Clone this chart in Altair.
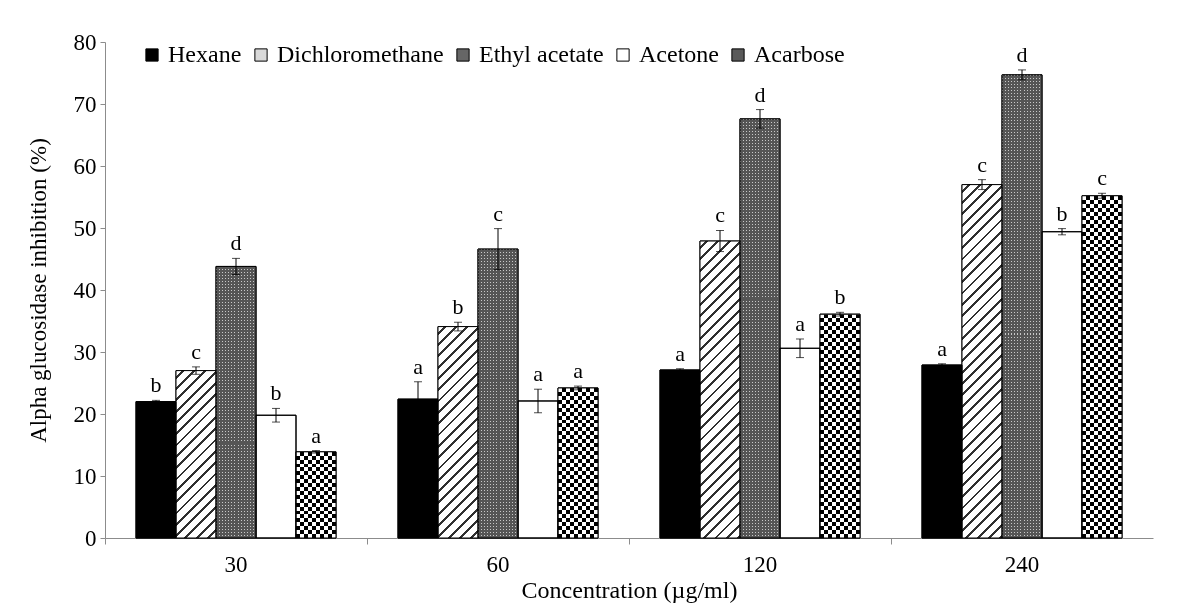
import math
import altair as alt
import pandas as pd

# ---------------- data ----------------
concentrations = ["30", "60", "120", "240"]
solvents = ["Hexane", "Dichloromethane", "Ethyl acetate", "Acetone", "Acarbose"]

hexane = [22.0, 22.4, 27.1, 27.9]
hexane_err = [0.2, 2.8, 0.2, 0.2]
hexane_sig = ["b", "a", "a", "a"]

dcm = [27.0, 34.1, 47.9, 57.0]
dcm_err = [0.6, 0.7, 1.7, 0.8]
dcm_sig = ["c", "b", "c", "c"]

ethyl = [43.8, 46.6, 67.6, 74.7]
ethyl_err = [1.3, 3.3, 1.5, 0.8]
ethyl_sig = ["d", "c", "d", "d"]

acetone = [19.8, 22.1, 30.6, 49.4]
acetone_err = [1.1, 1.9, 1.5, 0.5]
acetone_sig = ["b", "a", "a", "b"]

acarbose = [13.9, 24.2, 36.1, 55.2]
acarbose_err = [0.2, 0.3, 0.3, 0.4]
acarbose_sig = ["a", "a", "b", "c"]

series = {
    "Hexane": (hexane, hexane_err, hexane_sig),
    "Dichloromethane": (dcm, dcm_err, dcm_sig),
    "Ethyl acetate": (ethyl, ethyl_err, ethyl_sig),
    "Acetone": (acetone, acetone_err, acetone_sig),
    "Acarbose": (acarbose, acarbose_err, acarbose_sig),
}

rows = []
for s in solvents:
    vals, errs, sigs = series[s]
    for c, v, e, g in zip(concentrations, vals, errs, sigs):
        rows.append({"conc": c, "solvent": s, "value": v, "err": e,
                     "lo": v - e, "hi": v + e, "sig": g})
df = pd.DataFrame(rows)

# ---------------- geometry / style ----------------
W, H = 1048, 496
YMAX = 80
OUTER = 0.775
BAR_W = (W / len(concentrations)) / (len(solvents) + 2 * OUTER)
FONT = "Liberation Serif"
AXIS_GRAY = "#8c8c8c"
legend_colors = ["#000000", "#d9d9d9", "#666666", "#ffffff", "#5a5a5a"]

x_scale = alt.Scale(domain=concentrations, paddingInner=0, paddingOuter=0)
xo_scale = alt.Scale(domain=solvents, paddingInner=0, paddingOuter=OUTER)
y_scale = alt.Scale(domain=[0, YMAX], nice=False)

x_axis = alt.Axis(
    title="Concentration (µg/ml)", bandPosition=0,
    labelAngle=0, ticks=True, tickSize=6, tickColor=AXIS_GRAY,
    domainColor=AXIS_GRAY, labelFont=FONT, labelFontSize=23, labelColor="black",
    labelPadding=9, titleFont=FONT, titleFontSize=24, titleFontWeight="normal",
    titleColor="black", titleY=52, titleBaseline="middle", grid=False,
)
y_axis = alt.Axis(
    title="Alpha glucosidase inhibition (%)", values=list(range(0, 81, 10)),
    grid=False, domainColor=AXIS_GRAY, tickColor=AXIS_GRAY, tickSize=5,
    labelFont=FONT, labelFontSize=23, labelColor="black", labelPadding=4,
    titleFont=FONT, titleFontSize=23, titleFontWeight="normal", titleColor="black",
    titleX=-67, titleY=H / 2, titleAngle=270, titleAlign="center",
    titleBaseline="middle",
)

X = alt.X("conc:N", scale=x_scale, axis=x_axis)
XO = alt.XOffset("solvent:N", scale=xo_scale)


def Yf(field):
    return alt.Y(field, type="quantitative", scale=y_scale, axis=y_axis)


def bar_px(v):
    return v * H / YMAX


def diag_gradient(h, w=BAR_W, spacing=8.0, thick=2.0, bg="#ffffff", fg="#303030"):
    k = (w + h) / (w * w + h * h)
    L = (w + h) / math.sqrt(2)
    d = thick / L
    stops = [{"offset": 0, "color": bg}]
    j = 0
    while True:
        p = (j + 0.5) * spacing / L
        if p + d >= 1:
            break
        p = round(p, 5)
        q = round(p + d, 5)
        stops += [{"offset": p, "color": bg}, {"offset": p, "color": fg},
                  {"offset": q, "color": fg}, {"offset": q, "color": bg}]
        j += 1
    stops.append({"offset": 1, "color": bg})
    return {"gradient": "linear", "x1": 0, "y1": 0, "x2": round(w * k, 5),
            "y2": round(h * k, 5), "stops": stops}


def stripe_gradient(n, vertical, c_on="#000000", c_off="#ffffff", frac=0.5):
    """n periods, each: c_on for `frac` of the period then c_off."""
    stops = []
    for i in range(n):
        a = round(i / n, 5)
        m = round((i + frac) / n, 5)
        b = round((i + 1) / n, 5)
        stops += [{"offset": a, "color": c_on}, {"offset": m, "color": c_on},
                  {"offset": m, "color": c_off}, {"offset": b, "color": c_off}]
    if vertical:
        return {"gradient": "linear", "x1": 0, "y1": 0, "x2": 1, "y2": 0, "stops": stops}
    return {"gradient": "linear", "x1": 0, "y1": 0, "x2": 0, "y2": 1, "stops": stops}


def one_bar(solvent, conc=None):
    flt = alt.datum.solvent == solvent
    if conc is not None:
        flt = flt & (alt.datum.conc == conc)
    return alt.Chart(df).transform_filter(flt)


# ---------------- layers ----------------
base = alt.Chart(df).mark_bar(stroke="black", strokeWidth=1).encode(
    x=X, xOffset=XO, y=Yf("value"),
    fill=alt.Fill("solvent:N", scale=alt.Scale(domain=solvents, range=legend_colors),
                  legend=alt.Legend(
                      orient="none", legendX=35, legendY=1, direction="horizontal",
                      title=None, symbolType="square", symbolSize=150,
                      symbolStrokeColor="black", symbolStrokeWidth=1,
                      labelFont=FONT, labelFontSize=24, labelColor="black",
                      labelOffset=4, columnPadding=7, labelLimit=400, padding=0)),
)

layers = [base]

# Dichloromethane hatch
for c, v in zip(concentrations, dcm):
    layers.append(one_bar("Dichloromethane", c).mark_bar(
        fill=diag_gradient(bar_px(v)), strokeWidth=0).encode(
        x=X, xOffset=XO, y=Yf("value")))

# Ethyl acetate stipple: light dots where light columns and light rows cross
layers.append(one_bar("Ethyl acetate").mark_bar(
    fill=stripe_gradient(13, True, "#c8c8c8", "#555555", 1 / 3), strokeWidth=0).encode(
    x=X, xOffset=XO, y=Yf("value")))
for c, v in zip(concentrations, ethyl):
    n_rows = max(2, int(round(bar_px(v) / 3.0)))
    layers.append(one_bar("Ethyl acetate", c).mark_bar(
        fill=stripe_gradient(n_rows, False, "#ffffff", "#555555", 1 / 3),
        strokeWidth=0, blend="darken").encode(
        x=X, xOffset=XO, y=Yf("value")))

# Acarbose checkerboard: 4px columns, then 4px rows combined with difference
layers.append(one_bar("Acarbose").mark_bar(
    fill=stripe_gradient(5, True, "#000000", "#ffffff", 0.5), strokeWidth=0).encode(
    x=X, xOffset=XO, y=Yf("value")))
for c, v in zip(concentrations, acarbose):
    n_rows = max(1, int(round(bar_px(v) / 8.0)))
    layers.append(one_bar("Acarbose", c).mark_bar(
        fill=stripe_gradient(n_rows, False, "#ffffff", "#000000", 0.5),
        strokeWidth=0, blend="difference").encode(
        x=X, xOffset=XO, y=Yf("value")))

# outlines
layers.append(alt.Chart(df).mark_bar(fillOpacity=0, stroke="black", strokeWidth=1).encode(
    x=X, xOffset=XO, y=Yf("value")))

# error bars
layers.append(alt.Chart(df).mark_rule(color="black", strokeWidth=1).encode(
    x=X, xOffset=XO, y=Yf("lo"), y2="hi:Q"))
for fld in ["lo", "hi"]:
    layers.append(alt.Chart(df).mark_tick(color="black", thickness=1, size=8).encode(
        x=X, xOffset=XO, y=Yf(fld)))

# significance letters
layers.append(alt.Chart(df).mark_text(
    font=FONT, fontSize=22, color="black", baseline="alphabetic", dy=-8).encode(
    x=X, xOffset=XO, y=Yf("hi"), text="sig:N"))

chart = alt.layer(*layers).properties(
    width=W, height=H,
    background="white",
    autosize=alt.AutoSizeParams(type="none"),
    padding={"left": 97, "top": 34, "right": 26, "bottom": 66},
).configure_view(strokeWidth=0, stroke="transparent")

chart.save("out.html", embed_options={"renderer": "svg", "actions": False})
